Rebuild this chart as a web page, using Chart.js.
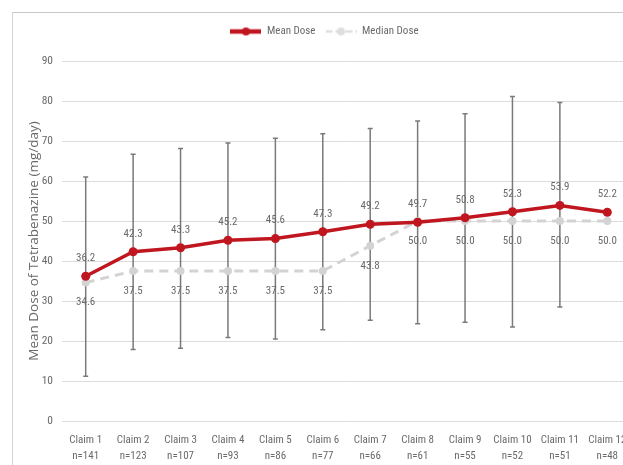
<!DOCTYPE html>
<html>
<head>
<meta charset="utf-8">
<script src="https://cdn.jsdelivr.net/npm/chart.js@4.4.1/dist/chart.umd.min.js"></script>
<style>
  html, body { margin: 0; padding: 0; background: #fff; overflow: hidden; width: 623px; height: 465px; }
  #frame { position: absolute; left: 12px; top: 12px; width: 700px; height: 500px; border-left: 1px solid #d4d4d4; border-top: 1px solid #c8c8c8; }
  #wrap { position: absolute; left: 0; top: 0; width: 640px; height: 465px; }
</style>
</head>
<body>
<div id="frame"></div>
<div id="wrap"><canvas id="c"></canvas></div>
<script>
const claims = ['Claim 1','Claim 2','Claim 3','Claim 4','Claim 5','Claim 6','Claim 7','Claim 8','Claim 9','Claim 10','Claim 11','Claim 12'];
const nCounts = ['n=141','n=123','n=107','n=93','n=86','n=77','n=66','n=61','n=55','n=52','n=51','n=48'];
const meanDose = [36.2, 42.3, 43.3, 45.2, 45.6, 47.3, 49.2, 49.7, 50.8, 52.3, 53.9, 52.2];
const medianDose = [34.6, 37.5, 37.5, 37.5, 37.5, 37.5, 43.8, 50.0, 50.0, 50.0, 50.0, 50.0];
const errHigh = [61.0, 66.7, 68.1, 69.5, 70.7, 71.8, 73.1, 75.0, 76.8, 81.1, 79.6, null];
const errLow  = [11.2, 17.9, 18.2, 20.9, 20.5, 22.8, 25.2, 24.3, 24.7, 23.5, 28.5, null];
const yTicks = [0, 10, 20, 30, 40, 50, 60, 70, 80, 90];

const RED = '#c0161f';
const GRAY = '#d3d3d3';
const TXT = '#6a6a6a';
const NARROW = "'Roboto Condensed', 'DejaVu Sans Condensed', sans-serif";

function legendIcon(color, dashed) {
  const cv = document.createElement('canvas');
  cv.width = 31; cv.height = 10;
  const g = cv.getContext('2d');
  g.strokeStyle = color; g.lineWidth = dashed ? 2.5 : 4.5;
  if (dashed) g.setLineDash([7, 3]);
  g.beginPath(); g.moveTo(0, 5); g.lineTo(31, 5); g.stroke();
  g.setLineDash([]);
  g.fillStyle = color;
  g.beginPath(); g.arc(15.5, 5, 4, 0, Math.PI * 2); g.fill();
  return cv;
}

const errorBars = {
  id: 'errorBars',
  beforeDatasetsDraw(chart) {
    const ctx = chart.ctx, xs = chart.scales.x, ys = chart.scales.y;
    ctx.save();
    ctx.strokeStyle = '#7a7a7a';
    ctx.lineWidth = 1.5;
    for (let i = 0; i < claims.length; i++) {
      if (errHigh[i] == null) continue;
      const x = xs.getPixelForValue(i);
      const yt = ys.getPixelForValue(errHigh[i]);
      const yb = ys.getPixelForValue(errLow[i]);
      ctx.beginPath();
      ctx.moveTo(x, yt); ctx.lineTo(x, yb);
      ctx.moveTo(x - 2.5, yt); ctx.lineTo(x + 2.5, yt);
      ctx.moveTo(x - 2.5, yb); ctx.lineTo(x + 2.5, yb);
      ctx.stroke();
    }
    ctx.restore();
  }
};

const valueLabels = {
  id: 'valueLabels',
  afterDatasetsDraw(chart) {
    const ctx = chart.ctx;
    ctx.save();
    ctx.font = "11px " + NARROW;
    ctx.fillStyle = TXT;
    ctx.textAlign = 'center';
    ctx.textBaseline = 'middle';
    chart.getDatasetMeta(0).data.forEach((el, i) => {
      ctx.fillText(meanDose[i].toFixed(1), el.x, el.y - 18);
    });
    chart.getDatasetMeta(1).data.forEach((el, i) => {
      ctx.fillText(medianDose[i].toFixed(1), el.x, el.y + 20);
    });
    ctx.restore();
  }
};

const legendTweak = {
  id: 'legendTweak',
  beforeInit(chart) {
    const orig = chart.legend.fit;
    chart.legend.fit = function () {
      orig.bind(chart.legend)();
      this.height = 45;
    };
  },
  afterLayout(chart) {
    chart.legend.left += 9;
    chart.legend.right += 9;
  }
};

new Chart(document.getElementById('c'), {
  type: 'line',
  data: {
    labels: claims.map((c, i) => [c, nCounts[i]]),
    datasets: [
      {
        label: 'Mean Dose',
        data: meanDose,
        borderColor: RED,
        backgroundColor: RED,
        borderWidth: 3.5,
        pointRadius: 4.5,
        pointBackgroundColor: RED,
        pointBorderWidth: 0,
        tension: 0,
        order: 0
      },
      {
        label: 'Median Dose',
        data: medianDose,
        borderColor: GRAY,
        backgroundColor: GRAY,
        borderWidth: 3,
        borderDash: [9, 6],
        pointRadius: 4,
        pointBackgroundColor: GRAY,
        pointBorderWidth: 0,
        tension: 0,
        order: 1
      }
    ]
  },
  options: {
    responsive: true,
    maintainAspectRatio: false,
    animation: false,
    layout: { padding: { top: 16, right: 9, left: 0, bottom: 0 } },
    plugins: {
      tooltip: { enabled: false },
      legend: {
        position: 'top',
        labels: {
          usePointStyle: true,
          pointStyleWidth: 31,
          padding: 10,
          color: TXT,
          font: { family: NARROW, size: 11 },
          generateLabels(chart) {
            return [
              { text: 'Mean Dose', pointStyle: legendIcon(RED, false), fontColor: TXT, datasetIndex: 0, lineWidth: 0, strokeStyle: 'rgba(0,0,0,0)', fillStyle: RED },
              { text: 'Median Dose', pointStyle: legendIcon('#dedede', true), fontColor: TXT, datasetIndex: 1, lineWidth: 0, strokeStyle: 'rgba(0,0,0,0)', fillStyle: GRAY }
            ];
          }
        }
      }
    },
    scales: {
      x: {
        offset: true,
        grid: { display: false, drawTicks: false },
        border: { display: false },
        ticks: { color: TXT, font: { family: NARROW, size: 11, lineHeight: 1.45 }, padding: 11, maxRotation: 0, autoSkip: false },
        afterFit(s) { s.height = 44; }
      },
      y: {
        min: 0, max: 90,
        afterBuildTicks(s) { s.ticks = yTicks.map(v => ({ value: v })); },
        grid: { color: '#dcdcdc', lineWidth: 1, drawTicks: false },
        border: { display: false },
        ticks: { color: TXT, font: { family: NARROW, size: 11.5 }, padding: 9 },
        title: {
          display: true,
          text: 'Mean Dose of Tetrabenazine (mg/day)',
          color: TXT,
          font: { family: "'Open Sans', sans-serif", size: 13.5 },
          padding: { top: 26, bottom: 0 }
        },
        afterFit(s) { s.width = 62; }
      }
    }
  },
  plugins: [errorBars, valueLabels, legendTweak]
});
</script>
</body>
</html>
